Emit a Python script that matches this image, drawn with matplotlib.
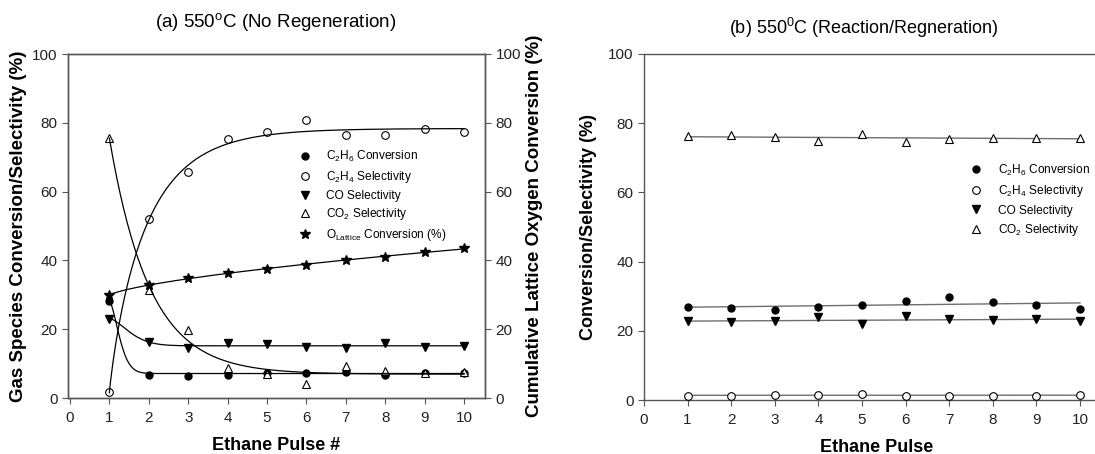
import numpy as np
import matplotlib
matplotlib.use("Agg")
import matplotlib.pyplot as plt

plt.rcParams['font.family'] = ['Liberation Sans', 'DejaVu Sans']
plt.rcParams['mathtext.fontset'] = 'custom'
plt.rcParams['mathtext.rm'] = 'Liberation Sans'
plt.rcParams['mathtext.it'] = 'Liberation Sans'

pulses = [1, 2, 3, 4, 5, 6, 7, 8, 9, 10]

# (a) sem regeneracao
a_c2h6_conv = [28.1, 6.8, 6.5, 6.8, 7.4, 7.4, 7.6, 6.8, 7.4, 7.4]
a_c2h4_sel = [1.6, 52.0, 65.6, 75.4, 77.3, 80.9, 76.5, 76.5, 78.3, 77.4]
a_co_sel = [23.1, 16.3, 14.5, 16.1, 15.7, 14.9, 14.5, 16.0, 14.7, 15.0]
a_co2_sel = [75.7, 31.3, 19.9, 8.7, 7.1, 4.2, 9.3, 7.9, 7.4, 7.6]
a_olattice = [29.8, 32.8, 34.9, 36.4, 37.5, 38.6, 40.0, 41.1, 42.3, 43.7]

# (b) reacao/regeneracao
b_c2h6_conv = [27.0, 26.5, 26.0, 26.9, 27.5, 28.6, 29.7, 28.2, 27.6, 26.4]
b_c2h4_sel = [1.2, 1.3, 1.5, 1.4, 1.7, 1.3, 1.3, 1.25, 1.3, 1.5]
b_co_sel = [22.8, 22.4, 22.7, 23.9, 22.0, 24.3, 23.4, 23.2, 23.3, 22.9]
b_co2_sel = [76.2, 76.6, 75.9, 74.9, 76.8, 74.7, 75.5, 75.8, 75.7, 75.8]

x_fino = np.linspace(1, 10, 300)


# ajuste y = a + b*exp(-k*(x-1)^p), busca em k, p e minimos quadrados em a, b
def ajuste_exp(x, y):
    x = np.asarray(x, float)
    y = np.asarray(y, float)
    melhor = None
    for p in np.linspace(0.7, 1.6, 10):
        for k in np.linspace(0.02, 6, 300):
            A = np.column_stack([np.ones_like(x), np.exp(-k * (x - 1) ** p)])
            coef, _, _, _ = np.linalg.lstsq(A, y, rcond=None)
            erro = np.sum((A @ coef - y) ** 2)
            if melhor is None or erro < melhor[0]:
                melhor = (erro, k, p, coef)
    _, k, p, coef = melhor
    return coef[0] + coef[1] * np.exp(-k * (x_fino - 1) ** p)


def ajuste_linear(x, y):
    p = np.polyfit(x, y, 1)
    return np.polyval(p, x_fino)


cor_eixo = '#555555'
tam_tick = 11
W, H = 1095, 454

fig = plt.figure(figsize=(10.95, 4.54), dpi=100)

# ---------------- painel (a)
ax1 = fig.add_axes([68 / W, 1 - 398 / H, (485 - 68) / W, (398 - 54) / H])
ax2 = ax1.twinx()

ax1.plot(pulses, a_c2h6_conv, 'o', color='black', ms=5, label='C$_2$H$_6$ Conversion')
ax1.plot(pulses, a_c2h4_sel, 'o', mfc='white', mec='black', mew=0.8, ms=5.5, label='C$_2$H$_4$ Selectivity')
ax1.plot(pulses, a_co_sel, 'v', color='black', ms=6, label='CO Selectivity')
ax1.plot(pulses, a_co2_sel, '^', mfc='white', mec='black', mew=0.8, ms=6, label='CO$_2$ Selectivity')
ax1.plot(pulses, a_olattice, '*', color='black', ms=7, label='O$_{\\mathrm{Lattice}}$ Conversion (%)')

for serie in [a_c2h6_conv, a_c2h4_sel, a_co_sel, a_co2_sel, a_olattice]:
    ax1.plot(x_fino, ajuste_exp(pulses, serie), color='black', lw=0.9)

ax1.set_xlim(-0.05, 10.53)
ax1.set_ylim(0, 100)
ax2.set_ylim(0, 100)
ax1.set_xticks(range(0, 11))
ax1.set_yticks(range(0, 101, 20))
ax2.set_yticks(range(0, 101, 20))
ax1.set_xlabel('Ethane Pulse #', fontsize=13, fontweight='bold', labelpad=9)
ax1.set_ylabel('Gas Species Conversion/Selectivity (%)', fontsize=13.5, fontweight='bold', labelpad=4)
ax2.set_ylabel('Cumulative Lattice Oxygen Conversion (%)', fontsize=13.5, fontweight='bold', labelpad=4)
fig.text(276 / W, 1 - 22 / H, '(a) 550$^{\\mathrm{o}}$C (No Regeneration)', fontsize=13.5,
         ha='center', va='center')

ax1.legend(loc='upper left', bbox_to_anchor=(0.525, 0.755), frameon=False, fontsize=8.6,
           handletextpad=1.2, labelspacing=0.4, handlelength=1.2)

for ax in (ax1, ax2):
    for s in ax.spines.values():
        s.set_color(cor_eixo)
        s.set_linewidth(1.0)
    ax.tick_params(colors=cor_eixo, labelcolor='#222222', labelsize=tam_tick, direction='out', length=4)
ax1.tick_params(axis='x', pad=5)

# ---------------- painel (b)
ax3 = fig.add_axes([644 / W, 1 - 400 / H, (1110 - 644) / W, (400 - 54) / H])

ax3.plot(pulses, b_c2h6_conv, 'o', color='black', ms=5, label='C$_2$H$_6$ Conversion', zorder=3)
ax3.plot(pulses, b_c2h4_sel, 'o', mfc='white', mec='black', mew=0.8, ms=5.5, label='C$_2$H$_4$ Selectivity', zorder=3)
ax3.plot(pulses, b_co_sel, 'v', color='black', ms=6, label='CO Selectivity', zorder=3)
ax3.plot(pulses, b_co2_sel, '^', mfc='white', mec='black', mew=0.8, ms=6, label='CO$_2$ Selectivity', zorder=3)

for serie in [b_c2h6_conv, b_c2h4_sel, b_co_sel, b_co2_sel]:
    ax3.plot(x_fino, ajuste_linear(pulses, serie), color='#6e6e6e', lw=1.0, zorder=2)

ax3.set_xlim(0, (1110 - 644) / 43.6)
ax3.set_ylim(0, 100)
ax3.set_xticks(range(0, 11))
ax3.set_yticks(range(0, 101, 20))
ax3.set_xlabel('Ethane Pulse', fontsize=13, fontweight='bold', labelpad=9)
ax3.set_ylabel('Conversion/Selectivity (%)', fontsize=13, fontweight='bold', labelpad=8)
fig.text(864 / W, 1 - 28 / H, '(b) 550$^{\\mathrm{0}}$C (Reaction/Regneration)', fontsize=13,
         ha='center', va='center')

ax3.legend(loc='upper left', bbox_to_anchor=(0.675, 0.717), frameon=False, fontsize=8.6,
           handletextpad=1.2, labelspacing=0.45, handlelength=1.2)

for s in ax3.spines.values():
    s.set_color(cor_eixo)
    s.set_linewidth(1.0)
ax3.spines['right'].set_visible(False)
ax3.tick_params(colors=cor_eixo, labelcolor='#222222', labelsize=tam_tick, direction='out', length=4)
ax3.tick_params(axis='x', pad=5)

fig.savefig('out.png', dpi=100)
